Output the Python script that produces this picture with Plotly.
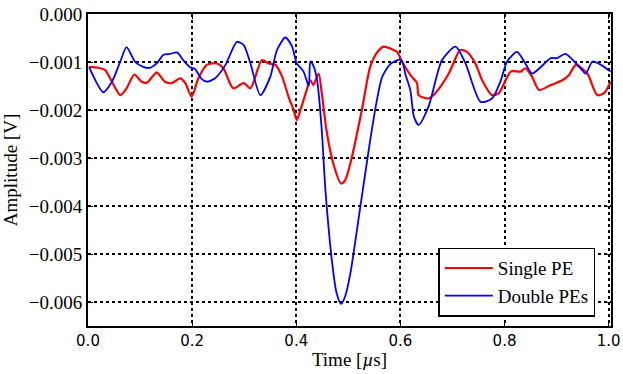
import plotly.graph_objects as go

# Single PE waveform (time in us, amplitude in V)
t_single = [0.002, 0.020, 0.033, 0.046, 0.062, 0.074, 0.089, 0.103, 0.113, 0.132,
            0.148, 0.161, 0.177, 0.187, 0.199, 0.212, 0.228, 0.248, 0.260, 0.279,
            0.299, 0.312, 0.334, 0.347, 0.360, 0.373, 0.385, 0.395, 0.401, 0.408,
            0.417, 0.427, 0.433, 0.443, 0.449, 0.459, 0.472, 0.486, 0.494, 0.504,
            0.526, 0.542, 0.556, 0.568, 0.581, 0.594, 0.603, 0.619, 0.632, 0.635,
            0.654, 0.667, 0.693, 0.715, 0.728, 0.744, 0.757, 0.776, 0.789, 0.812,
            0.831, 0.840, 0.853, 0.866, 0.889, 0.911, 0.924, 0.937, 0.959, 0.978,
            0.991, 1.004]
v_single = [-0.00110, -0.00112, -0.00117, -0.00141, -0.00169, -0.00155, -0.00126, -0.00141,
            -0.00143, -0.00122, -0.00141, -0.00144, -0.00134, -0.00144, -0.00172, -0.00134,
            -0.00106, -0.00103, -0.00113, -0.00155, -0.00144, -0.00155, -0.00096, -0.00103,
            -0.00106, -0.00131, -0.00172, -0.00200, -0.00221, -0.00200, -0.00169, -0.00138,
            -0.00148, -0.00124, -0.00165, -0.00249, -0.00315, -0.00353, -0.00346, -0.00311,
            -0.00200, -0.00110, -0.00079, -0.00068, -0.00072, -0.00079, -0.00099, -0.00127,
            -0.00144, -0.00169, -0.00176, -0.00165, -0.00124, -0.00075, -0.00079, -0.00103,
            -0.00138, -0.00169, -0.00165, -0.00120, -0.00120, -0.00113, -0.00131, -0.00158,
            -0.00148, -0.00138, -0.00127, -0.00106, -0.00124, -0.00169, -0.00165, -0.00141]

# Double PEs waveform
t_double = [0.002, 0.017, 0.029, 0.046, 0.062, 0.074, 0.090, 0.106, 0.119, 0.132,
            0.145, 0.158, 0.171, 0.183, 0.196, 0.206, 0.217, 0.228, 0.244, 0.264,
            0.286, 0.299, 0.312, 0.331, 0.350, 0.363, 0.379, 0.392, 0.401, 0.414,
            0.424, 0.427, 0.433, 0.440, 0.449, 0.456, 0.469, 0.477, 0.486, 0.494,
            0.504, 0.523, 0.542, 0.555, 0.565, 0.581, 0.597, 0.603, 0.610, 0.619,
            0.626, 0.635, 0.654, 0.680, 0.706, 0.725, 0.754, 0.776, 0.792, 0.805,
            0.824, 0.840, 0.853, 0.889, 0.901, 0.917, 0.946, 0.956, 0.969, 0.985,
            1.004]
v_double = [-0.00110, -0.00144, -0.00163, -0.00141, -0.00099, -0.00069, -0.00099, -0.00110,
            -0.00112, -0.00103, -0.00085, -0.00083, -0.00080, -0.00096, -0.00111, -0.00115,
            -0.00134, -0.00141, -0.00134, -0.00106, -0.00058, -0.00065, -0.00103, -0.00169,
            -0.00131, -0.00075, -0.00049, -0.00068, -0.00103, -0.00120, -0.00150, -0.00099,
            -0.00108, -0.00138, -0.00242, -0.00367, -0.00519, -0.00579, -0.00604, -0.00588,
            -0.00540, -0.00402, -0.00263, -0.00179, -0.00131, -0.00104, -0.00095, -0.00098,
            -0.00127, -0.00158, -0.00214, -0.00231, -0.00193, -0.00096, -0.00068, -0.00103,
            -0.00183, -0.00176, -0.00141, -0.00099, -0.00079, -0.00103, -0.00124, -0.00092,
            -0.00092, -0.00083, -0.00113, -0.00124, -0.00099, -0.00106, -0.00120]

serif = "Liberation Serif"

fig = go.Figure()
fig.add_trace(go.Scatter(x=t_single, y=v_single, mode="lines", name="Single PE",
                         line=dict(color="#ff0000", width=2.2, shape="spline", smoothing=0.7)))
fig.add_trace(go.Scatter(x=t_double, y=v_double, mode="lines", name="Double PEs",
                         line=dict(color="#0000ff", width=1.8, shape="spline", smoothing=0.7)))

fig.update_layout(
    width=623, height=374,
    margin=dict(l=88, r=12, t=14, b=48),
    paper_bgcolor="white", plot_bgcolor="white",
    showlegend=True,
    legend=dict(x=0.97, y=0.03, xanchor="right", yanchor="bottom",
                bgcolor="white", bordercolor="black", borderwidth=1.5,
                font=dict(family=serif, size=19, color="black"),
                itemwidth=48, tracegroupgap=0),
)

fig.update_xaxes(
    range=[0, 1.0045], dtick=0.2, tick0=0, tickformat=".1f",
    automargin=False, ticklabeloverflow="allow",
    showline=True, linecolor="black", linewidth=2, mirror="ticks",
    ticks="inside", ticklen=5, tickcolor="black",
    showgrid=True, gridcolor="black", griddash="dot", gridwidth=1.5,
    zeroline=False,
    tickfont=dict(family="DejaVu Sans", size=15, color="black"),
    title=dict(text="Time [<i>µ</i>s]", font=dict(family=serif, size=19, color="black"),
               standoff=4),
)
fig.update_yaxes(
    range=[-0.0065, 0], dtick=0.001, tick0=0, tickformat=".3f",
    automargin=False, ticklabeloverflow="allow",
    showline=True, linecolor="black", linewidth=2, mirror="ticks",
    ticks="inside", ticklen=5, tickcolor="black",
    showgrid=True, gridcolor="black", griddash="dot", gridwidth=1.5,
    zeroline=False,
    tickfont=dict(family=serif, size=19, color="black"),
    title=dict(text="Amplitude [V]", font=dict(family=serif, size=19, color="black"),
               standoff=6),
)

# drop the default 8px body margin so the figure fills the window
fig.write_html("out.html", config={"displayModeBar": False},
               post_script="document.body.style.margin = '0px';")
